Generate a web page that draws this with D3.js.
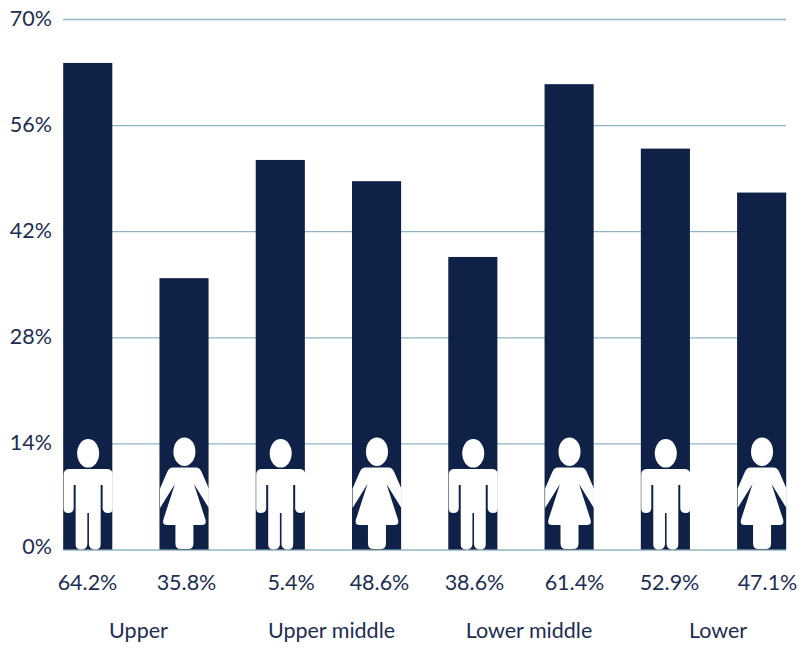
<!DOCTYPE html>
<html><head><meta charset="utf-8">
<script src="https://cdn.jsdelivr.net/npm/d3@7/dist/d3.min.js"></script>
<style>html,body{margin:0;padding:0;background:#fff}svg{display:block}text{font-family:Lato,sans-serif;fill:#1d2d52}</style>
</head><body><div id="c"></div>
<script>
const barIds=["m1","f1","m2","f2","m3","f3","m4","f4"];
const genders=["m","f","m","f","m","f","m","f"];
const values=[64.2,35.8,51.4,48.6,38.6,61.4,52.9,47.1];
const valueLabels=["64.2%","35.8%","5.4%","48.6%","38.6%","61.4%","52.9%","47.1%"];
const valueLabelCentres=[87.5,186.5,291,379.5,474.5,574.5,669.5,767.5];
const yTicks=[0,14,28,42,56,70];
const groupNames=["Upper","Upper middle","Lower middle","Lower"];
const groupCentres=[138.5,331.5,529,718];

const navy="#0f2147", grid="#8fb5c1";
const svg=d3.select("#c").append("svg").attr("width",800).attr("height",648);
const x=d3.scaleBand().domain(barIds).range([63.2,786.2]).paddingInner(0.49).paddingOuter(0);
const y=d3.scaleLinear().domain([0,70]).range([549.5,19]);

const yAxis=d3.axisLeft(y).tickValues(yTicks).tickFormat(d=>d+"%").tickSize(-723).tickPadding(11);
const gy=svg.append("g").attr("transform","translate(63,0)").call(yAxis);
gy.select(".domain").remove();
gy.selectAll("line").attr("stroke",grid).attr("stroke-width",1.3);
gy.selectAll("text").attr("font-size",21.5).attr("dy",d=>d===0?"0.17em":"0.3em");

svg.append("g").selectAll("rect").data(barIds).join("rect")
 .attr("x",d=>x(d)).attr("width",x.bandwidth())
 .attr("y",(d,i)=>y(values[i])).attr("height",(d,i)=>y(0)-y(values[i]))
 .attr("fill",navy);

const manBody="M-18.5,-80.5 H18.5 Q24.5,-80.5 24.5,-75 V-41 Q24.5,-36.5 20,-36.5 Q15,-36.5 14.5,-41 V-64.5 H12.5 V-5 Q12.5,0 7,0 Q1.5,0 0.8,-5 V-36.5 H-0.8 V-5 Q-1.5,0 -7,0 Q-12.5,0 -12.5,-5 V-64.5 H-14.5 V-41 Q-15,-36.5 -20,-36.5 Q-24.5,-36.5 -24.5,-41 V-75 Q-24.5,-80.5 -18.5,-80.5 Z";
const womanBody="M-11.7,-82 H11.7 Q15,-82 17,-78 L24.4,-61 V-41.5 L9.5,-65.5 L21,-30 Q22.5,-24.5 17.5,-24.5 H9 V-6 Q9,-0.5 3.5,-0.5 H-3.5 Q-9,-0.5 -9,-6 V-24.5 H-17.5 Q-22.5,-24.5 -21,-30 L-9.5,-65.5 L-24.4,-41.5 V-61 L-17,-78 Q-15,-82 -11.7,-82 Z";

const icons=svg.append("g").selectAll("g").data(barIds).join("g")
 .attr("transform",d=>`translate(${x(d)+x.bandwidth()/2+0.4},${y(0)})`);
icons.append("ellipse").attr("fill","#fff")
 .attr("cy",(d,i)=>genders[i]==="m"?-96.2:-97.8).attr("rx",11).attr("ry",14.3);
icons.append("path").attr("fill","#fff").attr("d",(d,i)=>genders[i]==="m"?manBody:womanBody);

svg.append("g").selectAll("text").data(barIds).join("text")
 .attr("x",(d,i)=>valueLabelCentres[i]).attr("y",590).attr("text-anchor","middle")
 .attr("font-size",21.5).text((d,i)=>valueLabels[i]);
svg.append("g").selectAll("text").data(groupNames).join("text")
 .attr("x",(d,i)=>groupCentres[i]).attr("y",638).attr("text-anchor","middle")
 .attr("font-size",21.5).text(d=>d);
</script></body></html>
